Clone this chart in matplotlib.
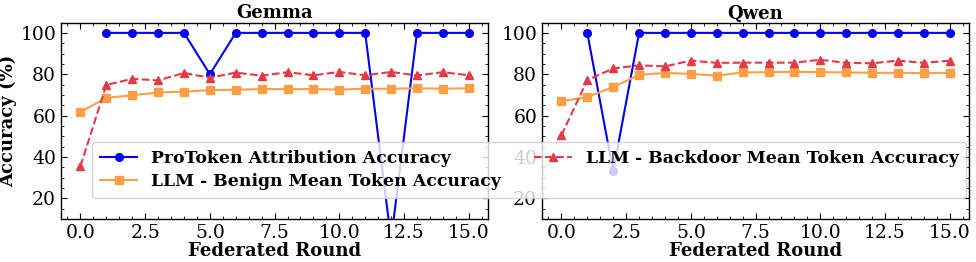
"""Gemma / Qwen federated rounds: ProToken attribution vs LLM token accuracy."""
import numpy as np
import matplotlib
matplotlib.use("Agg")
import matplotlib.pyplot as plt

rounds = np.arange(16)

# Gemma
gemma_protoken = [np.nan, 100, 100, 100, 100, 80, 100, 100, 100, 100, 100, 100, 0, 100, 100, 100]
gemma_benign = [61.7, 68.6, 69.8, 71.2, 71.6, 72.3, 72.5, 72.8, 72.8, 72.8, 72.6, 73.0, 73.0, 73.2, 73.0, 73.2]
gemma_backdoor = [35.5, 74.8, 77.8, 77.0, 80.6, 78.3, 80.8, 79.3, 81.0, 79.5, 81.1, 79.5, 81.1, 79.4, 81.0, 79.5]

# Qwen
qwen_protoken = [np.nan, 100, 33, 100, 100, 100, 100, 100, 100, 100, 100, 100, 100, 100, 100, 100]
qwen_benign = [66.9, 69.0, 73.8, 79.7, 80.6, 80.2, 79.3, 80.9, 81.0, 81.2, 81.0, 80.9, 80.7, 80.7, 80.5, 80.7]
qwen_backdoor = [50.5, 77.2, 82.8, 84.3, 83.8, 86.6, 85.5, 85.6, 85.6, 85.6, 87.0, 85.5, 85.3, 86.6, 85.5, 86.6]

panels = [("Gemma", gemma_protoken, gemma_benign, gemma_backdoor),
          ("Qwen", qwen_protoken, qwen_benign, qwen_backdoor)]

plt.rcParams.update({
    "font.family": "DejaVu Serif",
    "font.size": 13,
    "xtick.labelsize": 13.5, "ytick.labelsize": 13.5,
    "xtick.direction": "in", "ytick.direction": "in",
    "xtick.top": True, "ytick.right": True,
    "xtick.minor.visible": True, "ytick.minor.visible": True,
    "xtick.major.size": 4.5, "ytick.major.size": 4.5,
    "xtick.minor.size": 2.2, "ytick.minor.size": 2.2,
    "axes.linewidth": 1.0,
})

BLUE = "#0000f5"
ORANGE = "#ff9f45"
RED = "#e63946"

fig, axes = plt.subplots(1, 2, figsize=(9.76, 2.62), dpi=100)
fig.subplots_adjust(left=0.0625, right=0.993, top=0.914, bottom=0.164, wspace=0.126)

for ax, (name, pro, ben, bd) in zip(axes, panels):
    ax.plot(rounds, pro, "-o", color=BLUE, lw=1.5, ms=5.5,
            label="ProToken Attribution Accuracy")
    ax.plot(rounds, ben, "-s", color=ORANGE, lw=1.5, ms=5.5,
            label="LLM - Benign Mean Token Accuracy")
    ax.plot(rounds, bd, "--^", color=RED, lw=1.5, ms=5.5,
            label="LLM - Backdoor Mean Token Accuracy")
    ax.set_ylim(10, 105)
    ax.set_xlim(-0.75, 15.75)
    ax.set_yticks([20, 40, 60, 80, 100])
    ax.set_xticks([0, 2.5, 5, 7.5, 10, 12.5, 15])
    ax.set_title(name, fontweight="bold", fontsize=13, pad=3)
    ax.set_xlabel("Federated Round", fontweight="bold", fontsize=13, labelpad=0)

axes[0].set_ylabel("Accuracy (%)", fontweight="bold", fontsize=13, labelpad=2)

handles, labels = axes[0].get_legend_handles_labels()
leg = fig.legend(handles, labels, ncol=2, loc="center",
                 bbox_to_anchor=(0.542, 0.351), frameon=True,
                 prop={"weight": "bold", "size": 12.4},
                 handlelength=2.2, columnspacing=1.9,
                 borderpad=0.45, labelspacing=0.4)
leg.get_frame().set_alpha(0.8)

fig.savefig("out.png", dpi=100)
plt.close(fig)
